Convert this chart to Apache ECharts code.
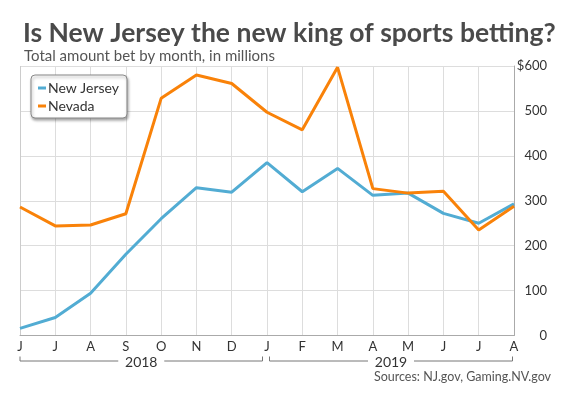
<!DOCTYPE html>
<html>
<head>
<meta charset="utf-8">
<script src="https://cdn.jsdelivr.net/npm/echarts@6/dist/echarts.min.js"></script>
<style>
  html, body { margin: 0; padding: 0; background: #fff; }
  #main { width: 569px; height: 398px; }
</style>
</head>
<body>
<div id="main"></div>
<script>
var months = ['J', 'J', 'A', 'S', 'O', 'N', 'D', 'J', 'F', 'M', 'A', 'M', 'J', 'J', 'A'];
var years = ['2018', '2019'];
var yearStart = [0, 7];
var newJersey = [16, 40, 94, 181, 260, 329, 319, 385, 320, 372, 312, 317, 272, 250, 293];
var nevada = [286, 244, 246, 271, 528, 580, 561, 497, 458, 597, 327, 317, 321, 235, 288];

var font = 'Lato, "Open Sans", sans-serif';
var myChart = echarts.init(document.getElementById('main'));

option = {
    animation: false,
    color: ['#52acd3', '#f98209'],
    title: [{
        text: 'Is New Jersey the new king of sports betting?',
        left: 18,
        top: 15,
        textStyle: { fontFamily: font, fontWeight: 'bold', fontSize: 26.5, color: '#4a4a4a' }
    }, {
        text: 'Total amount bet by month, in millions',
        left: 19,
        top: 44,
        textStyle: { fontFamily: font, fontWeight: 'normal', fontSize: 15, color: '#555' }
    }, {
        text: 'Sources: NJ.gov, Gaming.NV.gov',
        right: 13,
        top: 365,
        textStyle: { fontFamily: font, fontWeight: 'normal', fontSize: 12.5, color: '#555' }
    }],
    legend: {
        orient: 'vertical',
        left: 31,
        top: 75,
        padding: [6, 8, 5, 7],
        itemGap: 4,
        itemWidth: 8,
        itemHeight: 3,
        icon: 'rect',
        backgroundColor: '#fff',
        borderColor: '#888',
        borderWidth: 1,
        borderRadius: 4,
        shadowColor: 'rgba(0,0,0,0.35)',
        shadowBlur: 3,
        shadowOffsetX: 1,
        shadowOffsetY: 2,
        textStyle: { fontFamily: font, fontSize: 14, color: '#333', padding: [0, 0, 0, -3] },
        data: ['New Jersey', 'Nevada']
    },
    grid: { left: 20, right: 55, top: 66, bottom: 62.5 },
    xAxis: [{
        type: 'category',
        boundaryGap: false,
        data: months,
        axisLine: { lineStyle: { color: '#aaa', width: 1 } },
        axisTick: { show: false },
        axisLabel: { fontFamily: font, fontSize: 13, color: '#333', margin: 5, interval: 0 },
        splitLine: { show: true, lineStyle: { color: '#ddd' } }
    }],
    yAxis: [{
        type: 'value',
        position: 'right',
        min: 0,
        max: 600,
        interval: 100,
        axisLine: { show: true, lineStyle: { color: '#aaa' } },
        axisTick: { show: false },
        axisLabel: {
            fontFamily: font, fontSize: 13, color: '#333', align: 'right', margin: 33,
            formatter: function (v) { return v === 600 ? '$600' : String(v); }
        },
        splitLine: { lineStyle: { color: '#ddd' } }
    }],
    series: [{
        name: 'New Jersey',
        type: 'line',
        symbol: 'none',
        lineStyle: { width: 3 },
        data: newJersey
    }, {
        name: 'Nevada',
        type: 'line',
        symbol: 'none',
        lineStyle: { width: 3 },
        data: nevada
    }]
};

myChart.setOption(option);

// year brackets under the month labels, placed from the axis
var graphics = [];
var xy0 = myChart.convertToPixel({ gridIndex: 0 }, [0, 0]);
var yLine = xy0[1] + 25.5;
var lastIdx = months.length - 1;
var leftBorder = myChart.convertToPixel({ xAxisIndex: 0 }, 0);
graphics.push({
    type: 'line', silent: true,
    shape: { x1: leftBorder + 0.5, y1: 66, x2: leftBorder + 0.5, y2: xy0[1] },
    style: { stroke: '#ccc', lineWidth: 1 }
});
years.forEach(function (yr, i) {
    var a = myChart.convertToPixel({ xAxisIndex: 0 }, yearStart[i]);
    var b = i + 1 < years.length ? myChart.convertToPixel({ xAxisIndex: 0 }, yearStart[i + 1]) - 4.5
                                 : myChart.convertToPixel({ xAxisIndex: 0 }, lastIdx) - 1.5;
    if (i > 0) a += 2.5;
    var mid = (a + b) / 2;
    graphics.push({
        type: 'polyline', silent: true,
        shape: { points: [[a, yLine - 4.5], [a, yLine], [mid - 23, yLine]] },
        style: { stroke: '#777', lineWidth: 1, fill: null }
    });
    graphics.push({
        type: 'polyline', silent: true,
        shape: { points: [[mid + 23, yLine], [b, yLine], [b, yLine - 4.5]] },
        style: { stroke: '#777', lineWidth: 1, fill: null }
    });
    graphics.push({
        type: 'text', silent: true,
        x: mid, y: yLine + 1,
        style: { text: yr, fontFamily: font, fontSize: 14, fill: '#333', align: 'center', verticalAlign: 'middle' }
    });
});
myChart.setOption({ graphic: graphics });

window.onresize = function () {
    myChart.resize();
};
</script>
</body>
</html>
